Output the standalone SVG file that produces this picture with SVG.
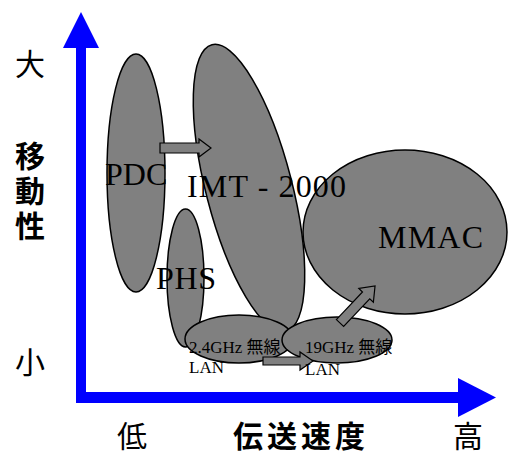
<svg xmlns="http://www.w3.org/2000/svg" width="508" height="453" viewBox="0 0 508 453">
<style>
.blob{fill:#808080;stroke:#000;stroke-width:1.5}
.arr{fill:#808080;stroke:#000;stroke-width:1.2}
.axis{fill:#0000ff}
.big{font-family:"Liberation Serif","Noto Sans CJK JP",serif;font-size:32px;fill:#000}
.small{font-family:"Liberation Serif","Noto Sans CJK JP",serif;font-size:17px;fill:#000}
.jp{font-family:"Noto Sans CJK JP",sans-serif;font-size:30px;fill:#000}
.jpb{font-family:"Noto Sans CJK JP",sans-serif;font-size:30px;font-weight:bold;fill:#000}
</style>
<rect width="508" height="453" fill="#fff"/>
<g id="axes">
<rect class="axis" x="76" y="46" width="10" height="357"/>
<polygon class="axis" points="63,48 99,48 81,12"/>
<rect class="axis" x="76" y="392" width="384" height="11"/>
<polygon class="axis" points="458,378 458,417 496,397.5"/>
</g>
<g id="PDC"><ellipse class="blob" cx="136" cy="173" rx="29" ry="119"/></g>
<g id="IMT2000"><ellipse class="blob" cx="0" cy="0" rx="43" ry="148" transform="translate(249,188) rotate(-14.5)"/></g>
<g id="PHS"><ellipse class="blob" cx="185.5" cy="278" rx="18.5" ry="69"/></g>
<g id="MMAC"><ellipse class="blob" cx="405" cy="232" rx="102" ry="82"/></g>
<g id="WLAN24"><ellipse class="blob" cx="239" cy="339" rx="54" ry="24"/></g>
<g id="WLAN19"><ellipse class="blob" cx="337" cy="340" rx="55" ry="23"/></g>
<g id="connectors">
<polygon class="arr" points="160,143 199,143 199,139 211,148 199,157 199,153 160,153"/>
<polygon class="arr" points="263,357 300,357 300,352 313,361 300,370 300,365 263,365"/>
<polygon class="arr" points="0,-5 38,-5 38,-10 51,0 38,10 38,5 0,5" transform="translate(340,323) rotate(-46.6)"/>
</g>
<g id="labels">
<text class="big" x="105" y="185">PDC</text>
<text class="big" x="187" y="197" textLength="159">IMT - 2000</text>
<text class="big" x="156" y="289" textLength="60">PHS</text>
<text class="big" x="378" y="248" textLength="105">MMAC</text>
<text class="small" x="189" y="353">2.4GHz 無線</text>
<text class="small" x="189" y="373">LAN</text>
<text class="small" x="305" y="353">19GHz 無線</text>
<text class="small" x="305" y="375">LAN</text>
<text class="jp" x="15" y="75">大</text>
<text class="jpb" x="15" y="167">移</text>
<text class="jpb" x="15" y="202">動</text>
<text class="jpb" x="15" y="237">性</text>
<text class="jp" x="15" y="373">小</text>
<text class="jp" x="117" y="447">低</text>
<text class="jpb" x="233" y="447" textLength="132">伝送速度</text>
<text class="jp" x="453" y="447">高</text>
</g>
</svg>
